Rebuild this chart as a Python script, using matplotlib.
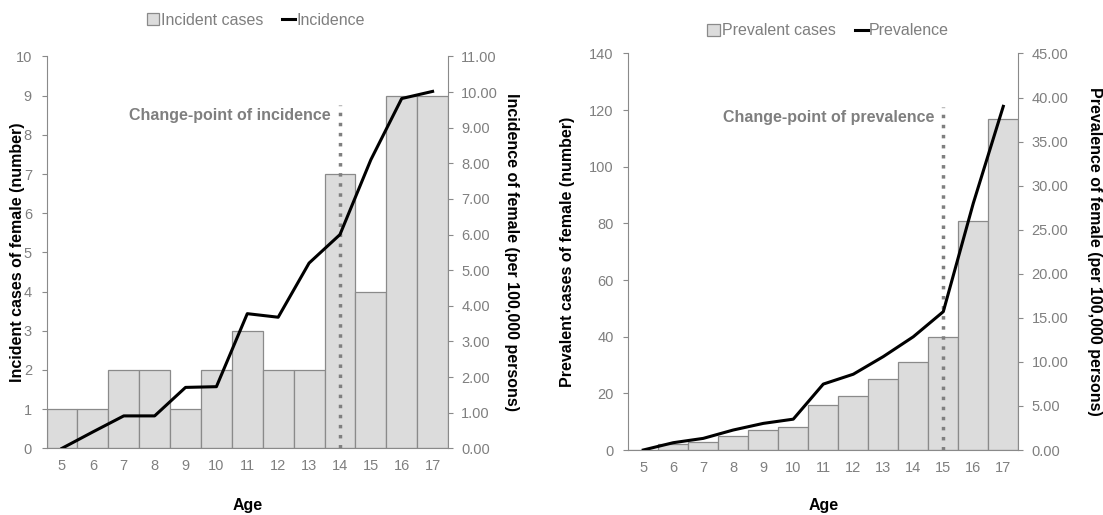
import matplotlib
matplotlib.use("Agg")
import matplotlib.pyplot as plt
from matplotlib.patches import Patch
from matplotlib.lines import Line2D

ages = list(range(5, 18))

incident_cases = [1, 1, 2, 2, 1, 2, 3, 2, 2, 7, 4, 9, 9]
incidence = [0.0, 0.46, 0.91, 0.91, 1.71, 1.73, 3.78, 3.68, 5.2, 6.0, 8.1, 9.82, 10.02]

prevalent_cases = [0, 2, 3, 5, 7, 8, 16, 19, 25, 31, 40, 81, 117]
prevalence = [0.0, 0.83, 1.32, 2.27, 3.02, 3.5, 7.48, 8.6, 10.6, 12.85, 15.7, 28.0, 39.0]

GREY = "#7f7f7f"
BAR = "#dcdcdc"
EDGE = "#8a8a8a"

plt.rcParams['font.family'] = ['Liberation Sans', 'DejaVu Sans']

fig = plt.figure(figsize=(11.03, 5.15), dpi=100)


def panel(rect, cases, rate, ymax, ystep, rmax, rstep, label_l, label_r,
          leg_bar, leg_line, cp_age, cp_top, cp_text, leg_pos, lab_x):
    ax = fig.add_axes(rect)
    ax.bar(ages, cases, width=1.0, color=BAR, edgecolor=EDGE, linewidth=0.9,
           zorder=2)
    ax.set_xlim(4.5, 17.5)
    ax.set_ylim(0, ymax)
    ax.set_yticks(range(0, ymax + 1, ystep))
    ax.set_xticks(ages)
    ax.tick_params(axis='x', length=0, colors=GREY, labelsize=10.5, pad=8)
    ax.tick_params(axis='y', length=3.5, colors=EDGE, labelcolor=GREY,
                   labelsize=10.5, direction='out', pad=7)
    for s in ['top', 'right']:
        ax.spines[s].set_visible(False)
    for s in ['left', 'bottom']:
        ax.spines[s].set_color(EDGE)
    ax.set_xlabel("Age", fontsize=11.5, fontweight='bold', va='center')
    ax.xaxis.set_label_coords(0.5, lab_x[2])
    ax.set_ylabel(label_l, fontsize=11.5, fontweight='bold', va='center')
    ax.yaxis.set_label_coords(lab_x[0], 0.5)

    # change-point marker
    ax.plot([cp_age, cp_age], [0, cp_top], color=GREY,
            linestyle=(0, (1, 1.9)), linewidth=2.5, zorder=3)
    ax.text(cp_age - 0.3, cp_top * 0.97, cp_text, ha='right', va='center',
            color=GREY, fontsize=11.5, fontweight='bold')

    ax2 = ax.twinx()
    ax2.plot(ages, rate, color='black', linewidth=2.2, zorder=4)
    ax2.set_ylim(0, rmax)
    ticks = [i * rstep for i in range(int(round(rmax / rstep)) + 1)]
    ax2.set_yticks(ticks)
    ax2.set_yticklabels([f"{t:.2f}" for t in ticks])
    ax2.tick_params(axis='y', length=3.5, colors=EDGE, labelcolor=GREY,
                    labelsize=10.5, direction='out', pad=6)
    for s in ['top', 'left', 'bottom']:
        ax2.spines[s].set_visible(False)
    ax2.spines['right'].set_color(EDGE)
    ax2.set_ylabel(label_r, fontsize=11.5, fontweight='bold', rotation=270,
                   va='center')
    ax2.yaxis.set_label_coords(lab_x[1], 0.5)

    handles = [Patch(facecolor=BAR, edgecolor=EDGE, linewidth=0.9),
               Line2D([], [], color='black', linewidth=2.2)]
    fig.legend(handles, [leg_bar, leg_line], loc='center', ncol=2,
               bbox_to_anchor=leg_pos, frameon=False, fontsize=11.5,
               handlelength=0.8, handleheight=0.8, handletextpad=0.1,
               columnspacing=1.2, labelcolor=GREY)


panel([0.0422, 0.1295, 0.364, 0.7608], incident_cases, incidence, 10, 1,
      11.0, 1.0,
      "Incident cases of female (number)",
      "Incidence of female (per 100,000 persons)",
      "Incident cases", "Incidence", 14, 8.76, "Change-point of incidence",
      (0.232, 0.961), (-0.073, 1.157, -0.145))

panel([0.5696, 0.1262, 0.3536, 0.770], prevalent_cases, prevalence, 140, 20,
      45.0, 5.0,
      "Prevalent cases of female (number)",
      "Prevalence of female (per 100,000 persons)",
      "Prevalent cases", "Prevalence", 15, 121, "Change-point of prevalence",
      (0.751, 0.940), (-0.157, 1.195, -0.139))

fig.savefig("out.png", dpi=100)
